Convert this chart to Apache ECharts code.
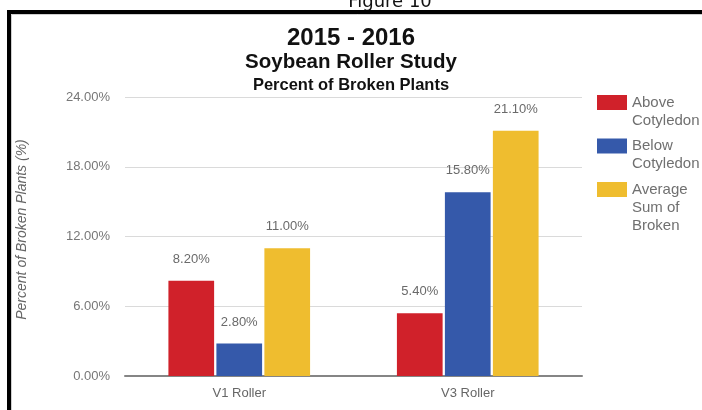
<!DOCTYPE html>
<html>
<head>
<meta charset="utf-8">
<script src="https://cdn.jsdelivr.net/npm/echarts@6/dist/echarts.min.js"></script>
<style>
html, body { margin: 0; padding: 0; background: #fff; }
#main { width: 702px; height: 410px; }
</style>
</head>
<body>
<div id="main"></div>
<script>
// data
var categories = ['V1 Roller', 'V3 Roller'];
var aboveCotyledon = [8.2, 5.4];
var belowCotyledon = [2.8, 15.8];
var averageSum = [11.0, 21.1];
var seriesNames = ['Above\nCotyledon', 'Below\nCotyledon', 'Average\nSum of\nBroken'];
var seriesColors = ['#d0212a', '#3559aa', '#efbd2f'];
var yMin = 0, yMax = 24, yStep = 6;

var chart = echarts.init(document.getElementById('main'));

function pct(v) {
    return Number(v).toFixed(2) + '%';
}

var labelFont = 'Liberation Sans';
var titleFont = 'Liberation Sans';

function barSeries(name, values, color) {
    return {
        name: name,
        type: 'bar',
        data: values,
        barCategoryGap: '38%',
        barGap: '5%',
        itemStyle: { color: color },
        label: {
            show: true,
            position: 'top',
            distance: 15,
            color: '#6a6a6a',
            fontSize: 13,
            fontFamily: labelFont,
            formatter: function (p) { return pct(p.value); }
        }
    };
}

// pad every legend text to 5 lines so the first line sits level with the swatch
function legendText(name) {
    var lines = name.split('\n');
    var out = [' ', ' '].concat(lines);
    while (out.length < 5) out.push(' ');
    return out.join('\n');
}

var titlePad = [0, 0, 0, 26];
var option = {
    animation: false,
    backgroundColor: '#fff',
    title: [
        { text: '2015 - 2016', left: 'center', top: 26, padding: titlePad,
          textStyle: { fontSize: 24, fontWeight: 'bold', color: '#111', fontFamily: titleFont } },
        { text: 'Soybean Roller Study', left: 'center', top: 52, padding: titlePad,
          textStyle: { fontSize: 20.5, fontWeight: 'bold', color: '#111', fontFamily: titleFont } },
        { text: 'Percent of Broken Plants', left: 'center', top: 76.5, padding: titlePad,
          textStyle: { fontSize: 16.5, fontWeight: 'bold', color: '#111', fontFamily: titleFont } }
    ],
    legend: {
        orient: 'vertical',
        left: 597,
        top: 57.5,
        padding: 0,
        icon: 'rect',
        itemWidth: 30,
        itemHeight: 15,
        itemGap: -46.5,
        formatter: legendText,
        textStyle: { color: '#707070', fontSize: 15, fontFamily: labelFont, lineHeight: 18 },
        data: seriesNames
    },
    grid: { left: 125, right: 120, top: 97, bottom: 34 },
    xAxis: {
        type: 'category',
        data: categories,
        axisTick: { show: false },
        axisLine: { lineStyle: { color: '#858585', width: 2 } },
        axisLabel: { color: '#666', fontSize: 13, fontFamily: labelFont, margin: 11 }
    },
    yAxis: {
        type: 'value',
        min: yMin,
        max: yMax,
        interval: yStep,
        name: 'Percent of Broken Plants (%)',
        nameLocation: 'middle',
        nameGap: 96,
        nameTextStyle: { color: '#666', fontSize: 14, fontStyle: 'italic', fontFamily: labelFont,
                         padding: [0, 0, 0, 14] },
        axisLine: { show: false },
        axisTick: { show: false },
        splitLine: { lineStyle: { color: '#dadada' } },
        axisLabel: {
            color: '#777', fontSize: 13, fontFamily: labelFont, margin: 15,
            formatter: function (v) { return pct(v); }
        }
    },
    graphic: [
        { type: 'text', silent: true,
          style: { text: 'Figure 10', x: 390, y: 11, fill: '#111', font: '18px DejaVu Sans',
                   align: 'center', verticalAlign: 'bottom' } },
        { type: 'rect', silent: true,
          shape: { x: 9, y: 12, width: 760, height: 450 },
          style: { fill: 'none', stroke: '#000', lineWidth: 4 } },
        { type: 'rect', silent: true,
          shape: { x: 11.5, y: 14.5, width: 760, height: 450 },
          style: { fill: 'none', stroke: '#cfcfcf', lineWidth: 1 } }
    ],
    series: [
        barSeries(seriesNames[0], aboveCotyledon, seriesColors[0]),
        barSeries(seriesNames[1], belowCotyledon, seriesColors[1]),
        barSeries(seriesNames[2], averageSum, seriesColors[2])
    ]
};

chart.setOption(option);
</script>
</body>
</html>
